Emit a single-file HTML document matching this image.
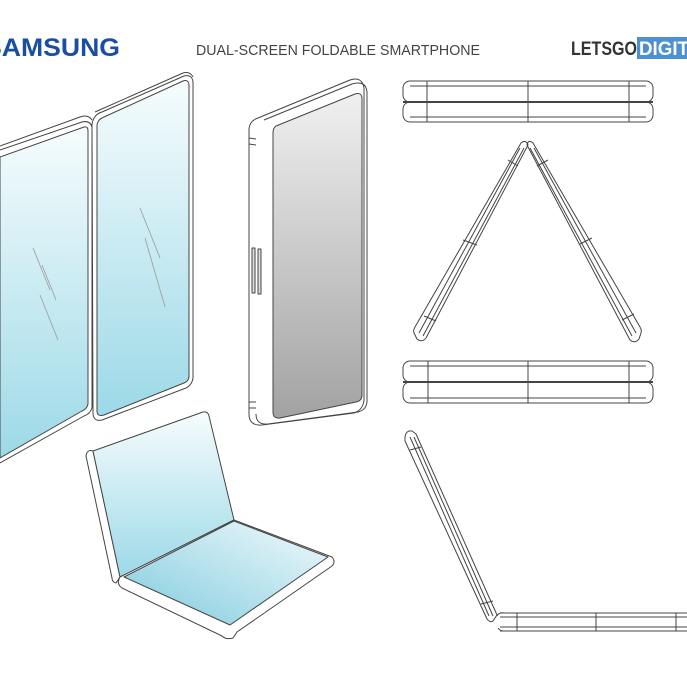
<!DOCTYPE html>
<html><head><meta charset="utf-8"><style>
html,body{margin:0;padding:0;background:#fff;}
svg{display:block;}
</style></head><body>
<svg width="687" height="673" viewBox="0 0 687 673" xmlns="http://www.w3.org/2000/svg">
<defs>
<linearGradient id="blue" x1="0" y1="0" x2="0" y2="1">
<stop offset="0" stop-color="#f6fcfd"/><stop offset="1" stop-color="#9cd9e7"/></linearGradient>
<linearGradient id="blue2" x1="1" y1="0" x2="0" y2="1">
<stop offset="0" stop-color="#f2fafc"/><stop offset="1" stop-color="#7fcbde"/></linearGradient>
<linearGradient id="gray" x1="0" y1="0" x2="0" y2="1">
<stop offset="0" stop-color="#f0f0f0"/><stop offset="1" stop-color="#a2a2a2"/></linearGradient>
</defs>
<g font-family="Liberation Sans, sans-serif">
<text x="-16" y="56" font-size="25" font-weight="bold" fill="#1a4ea0" textLength="136" lengthAdjust="spacingAndGlyphs">SAMSUNG</text>
<text x="196" y="55" font-size="15" fill="#444" textLength="284" lengthAdjust="spacingAndGlyphs">DUAL-SCREEN FOLDABLE SMARTPHONE</text>
<text x="571" y="55" font-size="19" font-weight="bold" fill="#333" textLength="66" lengthAdjust="spacingAndGlyphs">LETSGO</text>
<rect x="637" y="37" width="52" height="22" fill="#4a90d2"/>
<text x="639" y="55" font-size="19" font-weight="bold" fill="#fff" textLength="50" lengthAdjust="spacingAndGlyphs">DIGIT</text>
</g>
<g stroke="#444" stroke-width="1" fill="none" stroke-linejoin="round">
<path d="M0,150 L82,122 Q90,120 92,127 L92,408 Q90,414 84,416 L0,463" fill="#fff"/>
<path d="M0,157 L84,127 Q88,126 88,131 L88,404 Q87,409 82,411 L0,458 Z" fill="url(#blue)"/>
<path d="M92,124 Q94,114 102,112 L184,76 Q192,74 193,82 L193,378 Q192,385 186,388 L102,420 Q94,422 93,414 Z" fill="#fff"/>
<path d="M97,125 Q98,119 104,117 L183,81 Q189,79 189,86 L189,376 Q189,381 184,383 L104,415 Q97,417 97,411 Z" fill="url(#blue)"/>
<path d="M0,146 L80,117 Q88,114 92,120" />
<path d="M95,112 L183,73 Q190,71 193,77"/>
<g stroke="#999" stroke-width="0.8"><line x1="33" y1="248" x2="50" y2="290"/><line x1="42" y1="265" x2="56" y2="300"/><line x1="40" y1="295" x2="58" y2="340"/><line x1="140" y1="208" x2="160" y2="258"/><line x1="145" y1="238" x2="165" y2="307"/></g>
<path d="M258,118 L350,80 Q362,76 364,88 L364,400 Q363,410 354,413 L262,425 Q249,426 249,414 L249,130 Q249,121 258,118 Z" fill="#fff"/>
<path d="M264,120 L352,84 Q366,80 367,92 L367,402 Q366,410 358,412 L268,424 Q256,425 256,414" />
<path d="M276,126 L355,94 Q362,92 362,99 L362,395 Q362,401 356,402 L280,418 Q273,419 273,412 L273,133 Q273,128 276,126 Z" fill="url(#gray)"/>
<line x1="249" y1="138" x2="256" y2="139"/><line x1="249" y1="144" x2="256" y2="145"/>
<line x1="249" y1="402" x2="256" y2="402"/><line x1="249" y1="408" x2="256" y2="408"/>
<rect x="252" y="248" width="3" height="45" fill="#ddd"/><rect x="258" y="249" width="3" height="45" fill="#ddd"/>
<rect x="403" y="81" width="250" height="21" rx="7"/>
<rect x="403" y="102" width="250" height="20" rx="7"/>
<line x1="403" y1="102" x2="653" y2="102" stroke-width="2"/>
<line x1="410" y1="86" x2="646" y2="86"/><line x1="410" y1="117" x2="646" y2="117"/>
<line x1="427" y1="81" x2="427" y2="122"/><line x1="528" y1="81" x2="528" y2="122"/><line x1="629" y1="81" x2="629" y2="122"/>
<rect x="403" y="361" width="250" height="21" rx="7"/>
<rect x="403" y="382" width="250" height="21" rx="7"/>
<line x1="403" y1="382" x2="653" y2="382" stroke-width="2"/>
<line x1="410" y1="366" x2="646" y2="366"/><line x1="410" y1="398" x2="646" y2="398"/>
<line x1="428" y1="361" x2="428" y2="403"/><line x1="528" y1="361" x2="528" y2="403"/><line x1="629" y1="361" x2="629" y2="403"/>
<path d="M521,143 Q526,139 528,145 L426,338 Q422,343 417,339 L414,333 Q413,330 415,327 Z"/>
<line x1="520" y1="148" x2="419" y2="333"/><line x1="524" y1="148" x2="423" y2="336"/>
<line x1="508" y1="160" x2="518" y2="166"/><line x1="463" y1="240" x2="477" y2="245"/><line x1="424" y1="316" x2="436" y2="321"/>
<path d="M533,143 Q528,139 527,145 L630,340 Q635,344 639,339 L641,333 Q642,330 640,327 Z"/>
<line x1="534" y1="148" x2="636" y2="333"/><line x1="530" y1="148" x2="632" y2="336"/>
<line x1="537" y1="166" x2="548" y2="160"/><line x1="580" y1="244" x2="592" y2="238"/><line x1="622" y1="320" x2="634" y2="314"/>
<path d="M405,437 Q406,430 412,431 L416,434 L497,615 L493,621 Q490,623 487,619 L405,441 Z"/>
<line x1="410" y1="437" x2="489" y2="616"/><line x1="414" y1="437" x2="493" y2="616"/>
<line x1="410" y1="450" x2="421" y2="447"/><line x1="481" y1="604" x2="493" y2="601"/>
<path d="M500,613 L687,613 M500,631 L687,631 M497,616 Q499,612 504,613 M498,628 Q500,631 504,631"/>
<line x1="500" y1="617" x2="687" y2="617"/><line x1="500" y1="627" x2="687" y2="627"/>
<line x1="517" y1="613" x2="517" y2="631"/><line x1="596" y1="613" x2="596" y2="631"/><line x1="676" y1="613" x2="676" y2="631"/>
<path d="M86,456 Q87,449 93,451 L120,577 L116,583 Q112,582 112,578 Z" fill="#fff"/>
<path d="M93,451 L203,412 Q208,411 209,416 L234,520 L120,577 Z" fill="url(#blue)"/>
<path d="M120,577 L234,520 L332,557 Q336,562 332,566 L237,632 L233,638 Q226,640 222,636 L122,588 Q116,584 120,577 Z" fill="#fff"/>
<path d="M124,577 L234,521 L328,557 L230,625 Z" fill="url(#blue2)"/>
</g>
</svg>
</body></html>
